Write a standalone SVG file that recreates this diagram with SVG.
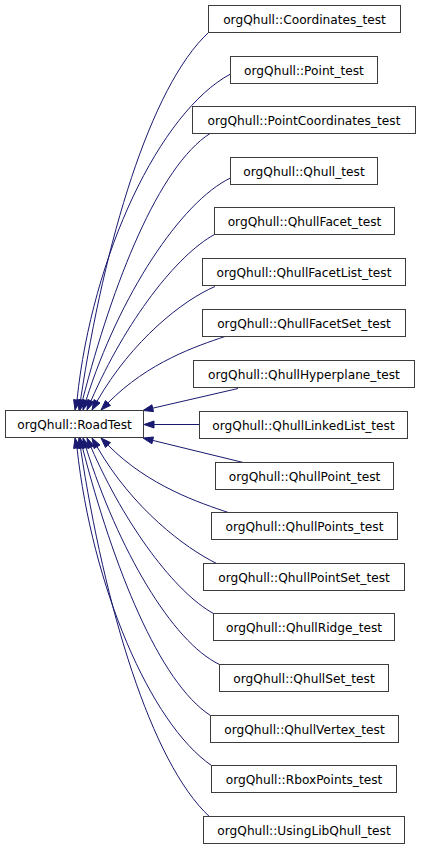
<svg xmlns="http://www.w3.org/2000/svg" width="421" height="848" viewBox="0 0 421 848">
<style>
.box{fill:#ffffff;stroke:#3c3c3c;stroke-width:1}
.lbl{font-family:"DejaVu Sans","Liberation Sans",sans-serif;font-size:12.2px;fill:#000000;text-anchor:middle}
.edge{fill:none;stroke:#191970;stroke-width:1}
.head{fill:#191970;stroke:#191970;stroke-width:1}
</style>
<rect width="421" height="848" fill="#ffffff"/>
<g id="edges">
<path class="edge" d="M208.5,32.5 C150,87 104.5,242 80.5,400.1"/>
<polygon class="head" points="79,410 84,400.6 77,399.6"/>
<path class="edge" d="M230.5,74 C160,112 92,255 77,400.2"/>
<polygon class="head" points="75,410 80.4,400.9 73.6,399.5"/>
<path class="edge" d="M210,133.5 C158.8,166.5 113,282 82.5,400.3"/>
<polygon class="head" points="80,410 85.9,401.2 79.1,399.4"/>
<path class="edge" d="M230.5,178 C181,201.7 119,296 86,400.5"/>
<polygon class="head" points="83,410 89.3,401.6 82.7,399.4"/>
<path class="edge" d="M214.5,234.5 C176.7,255.1 125.8,320.8 91,400.8"/>
<polygon class="head" points="87,410 94.2,402.2 87.8,399.4"/>
<path class="edge" d="M215,286.5 C182.8,300.2 132,340.3 97,401.3"/>
<polygon class="head" points="92,410 100,403 94,399.6"/>
<path class="edge" d="M225,336.5 C197.5,345.8 148.6,361.7 108,402.9"/>
<polygon class="head" points="101,410 110.5,405.4 105.5,400.5"/>
<path class="edge" d="M238,388.5 L152.7,408.2"/>
<polygon class="head" points="143,410.5 153.5,411.6 151.9,404.8"/>
<path class="edge" d="M199.5,424.5 L154,424.5"/>
<polygon class="head" points="144,424.5 154,421 154,428"/>
<path class="edge" d="M243.3,462.5 L152.7,440.4"/>
<polygon class="head" points="143,438 153.5,437 151.9,443.8"/>
<path class="edge" d="M228.3,512.5 C200.8,503.2 148.6,486.3 108,445.1"/>
<polygon class="head" points="101,438 110.5,442.6 105.5,447.6"/>
<path class="edge" d="M216.7,563.5 C185.2,548.1 132.5,508.5 97,446.7"/>
<polygon class="head" points="92,438 100,445 94,448.5"/>
<path class="edge" d="M213.5,613.5 C175.7,592.9 125.4,526.3 91,447.2"/>
<polygon class="head" points="87,438 94.2,445.8 87.8,448.6"/>
<path class="edge" d="M219.5,664.5 C171.8,641.7 117.8,548.2 86,447.5"/>
<polygon class="head" points="83,438 89.3,446.4 82.7,448.6"/>
<path class="edge" d="M210.5,715.5 C159.3,682.5 113.3,567 82.5,447.7"/>
<polygon class="head" points="80,438 85.9,446.8 79.1,448.6"/>
<path class="edge" d="M211.5,765.5 C150,723 92,586 77,447.8"/>
<polygon class="head" points="75,438 80.4,447.1 73.6,448.5"/>
<path class="edge" d="M209.3,816.5 C150.9,762.1 104.5,606.3 80.5,447.9"/>
<polygon class="head" points="79,438 84,447.4 77,448.4"/>
</g>
<g id="node_RoadTest"><rect class="box" x="5.5" y="410.5" width="138" height="27"/><text class="lbl" x="74.5" y="428.5">orgQhull::RoadTest</text></g>
<g id="node_Coordinates_test"><rect class="box" x="208.5" y="5.5" width="192" height="27"/><text class="lbl" x="304.5" y="23.5">orgQhull::Coordinates_test</text></g>
<g id="node_Point_test"><rect class="box" x="230.5" y="56.5" width="147" height="27"/><text class="lbl" x="304" y="74.5">orgQhull::Point_test</text></g>
<g id="node_PointCoordinates_test"><rect class="box" x="192.5" y="106.5" width="223" height="27"/><text class="lbl" x="304" y="124.5">orgQhull::PointCoordinates_test</text></g>
<g id="node_Qhull_test"><rect class="box" x="230.5" y="157.5" width="147" height="27"/><text class="lbl" x="304" y="175.5">orgQhull::Qhull_test</text></g>
<g id="node_QhullFacet_test"><rect class="box" x="214.5" y="207.5" width="180" height="27"/><text class="lbl" x="304.5" y="225.5">orgQhull::QhullFacet_test</text></g>
<g id="node_QhullFacetList_test"><rect class="box" x="202.5" y="258.5" width="203" height="27"/><text class="lbl" x="304" y="276.5">orgQhull::QhullFacetList_test</text></g>
<g id="node_QhullFacetSet_test"><rect class="box" x="202.5" y="309.5" width="203" height="27"/><text class="lbl" x="304" y="327.5">orgQhull::QhullFacetSet_test</text></g>
<g id="node_QhullHyperplane_test"><rect class="box" x="193.5" y="360.5" width="221" height="27"/><text class="lbl" x="304" y="378.5">orgQhull::QhullHyperplane_test</text></g>
<g id="node_QhullLinkedList_test"><rect class="box" x="199.5" y="411.5" width="208" height="27"/><text class="lbl" x="303.5" y="429.5">orgQhull::QhullLinkedList_test</text></g>
<g id="node_QhullPoint_test"><rect class="box" x="215.5" y="462.5" width="178" height="27"/><text class="lbl" x="304.5" y="480.5">orgQhull::QhullPoint_test</text></g>
<g id="node_QhullPoints_test"><rect class="box" x="211.5" y="512.5" width="186" height="27"/><text class="lbl" x="304.5" y="530.5">orgQhull::QhullPoints_test</text></g>
<g id="node_QhullPointSet_test"><rect class="box" x="203.5" y="563.5" width="201" height="27"/><text class="lbl" x="304" y="581.5">orgQhull::QhullPointSet_test</text></g>
<g id="node_QhullRidge_test"><rect class="box" x="213.5" y="613.5" width="181" height="27"/><text class="lbl" x="304" y="631.5">orgQhull::QhullRidge_test</text></g>
<g id="node_QhullSet_test"><rect class="box" x="219.5" y="664.5" width="169" height="27"/><text class="lbl" x="304" y="682.5">orgQhull::QhullSet_test</text></g>
<g id="node_QhullVertex_test"><rect class="box" x="210.5" y="715.5" width="188" height="27"/><text class="lbl" x="304.5" y="733.5">orgQhull::QhullVertex_test</text></g>
<g id="node_RboxPoints_test"><rect class="box" x="211.5" y="765.5" width="185" height="27"/><text class="lbl" x="304" y="783.5">orgQhull::RboxPoints_test</text></g>
<g id="node_UsingLibQhull_test"><rect class="box" x="203.5" y="816.5" width="201" height="27"/><text class="lbl" x="304" y="834.5">orgQhull::UsingLibQhull_test</text></g>
</svg>
